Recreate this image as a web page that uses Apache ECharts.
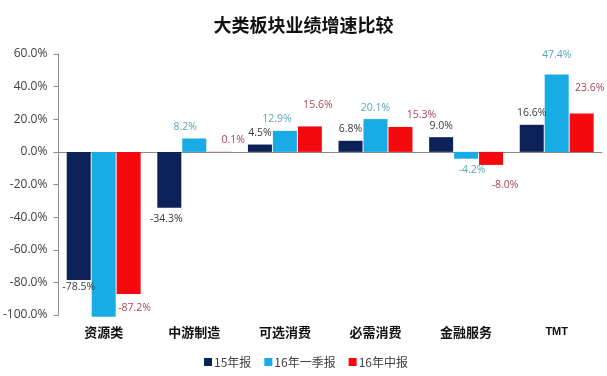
<!DOCTYPE html>
<html>
<head>
<meta charset="utf-8">
<script src="https://cdn.jsdelivr.net/npm/echarts@6/dist/echarts.min.js"></script>
<style>
  html, body { margin: 0; padding: 0; background: #fff; }
  #chart { width: 607px; height: 376px; }
</style>
</head>
<body>
<div id="chart"></div>
<script>
// 大类板块业绩增速比较 (%)
const categories = ['资源类', '中游制造', '可选消费', '必需消费', '金融服务', 'TMT'];
const fy15 = [-78.5, -34.3, 4.5, 6.8, 9.0, 16.6];
const q1_16 = [-101.0, 8.2, 12.9, 20.1, -4.2, 47.4];
const h1_16 = [-87.2, 0.1, 15.6, 15.3, -8.0, 23.6];
const seriesNames = ['15年报', '16年一季报', '16年中报'];
const yTicks = [-100, -80, -60, -40, -20, 0, 20, 40, 60];

// label nudges [dx, dy] — labels were hand-placed in the original
const offsFy15 = [[0, -4], [-3, 0], [0, 0], [0, 0], [0, 0], [0, 0]];
const offsQ1 = [[0, 0], [-9, 0], [-8, 0], [0, 0], [6, 0], [0, -8]];
const offsH1 = [[6, 2], [14, 0], [8, -10], [21, 0], [14, 9], [8, -14]];
const hideLabel = [[], [0], []];

const colors = ['#0c2157', '#18abe5', '#f40a0c'];
const labelColors = ['#3a3a3a', '#5aa6b8', '#ad4656'];

function buildSeries(idx, values, offs) {
  return {
    name: seriesNames[idx],
    type: 'bar',
    xAxisIndex: 0,
    barWidth: 24,
    barGap: '4%',
    clip: false,
    itemStyle: { color: colors[idx] },
    data: values.map((v, i) => ({
      value: v,
      label: {
        show: hideLabel[idx].indexOf(i) < 0,
        position: v >= 0 ? 'top' : 'bottom',
        distance: 6,
        offset: offs[i],
        formatter: p => p.value.toFixed(1) + '%',
        color: labelColors[idx],
        fontSize: 10.5,
        fontFamily: 'Open Sans'
      }
    }))
  };
}

const chart = echarts.init(document.getElementById('chart'));
chart.setOption({
  animation: false,
  title: {
    text: '大类板块业绩增速比较',
    left: 'center',
    top: 11,
    textStyle: { fontSize: 18, fontWeight: 'bold', color: '#111', fontFamily: 'Noto Sans CJK SC' }
  },
  legend: {
    data: seriesNames,
    left: 199,
    top: 351,
    itemWidth: 8,
    itemHeight: 8,
    itemGap: 13,
    icon: 'rect',
    textStyle: { fontSize: 12, color: '#404040', fontFamily: 'Noto Sans CJK SC', padding: [0, 0, 0, -3] }
  },
  grid: { left: 53, right: 5, top: 54, bottom: 61 },
  xAxis: [
    {
      type: 'category',
      data: categories,
      axisLine: { onZero: true, lineStyle: { color: '#8c8c8c' } },
      axisTick: { show: false },
      axisLabel: { show: false }
    },
    {
      type: 'category',
      data: categories,
      position: 'bottom',
      axisLine: { show: false, onZero: false },
      axisTick: { show: false },
      axisLabel: {
        margin: 11,
        fontSize: 13,
        fontWeight: 'bold',
        color: '#111',
        fontFamily: 'Noto Sans CJK SC',
        formatter: v => v === 'TMT' ? '{s|TMT}' : v,
        rich: { s: { fontSize: 11, fontWeight: 'bold', color: '#111', fontFamily: 'Liberation Sans' } }
      }
    }
  ],
  yAxis: {
    type: 'value',
    min: yTicks[0],
    max: yTicks[yTicks.length - 1],
    interval: 20,
    axisLine: { show: true, lineStyle: { color: '#8c8c8c' } },
    axisTick: { show: true, length: 5, lineStyle: { color: '#8c8c8c' } },
    splitLine: { show: false },
    axisLabel: {
      margin: 11,
      fontSize: 12,
      color: '#404040',
      fontFamily: 'Open Sans',
      formatter: v => v.toFixed(1) + '%'
    }
  },
  series: [
    buildSeries(0, fy15, offsFy15),
    buildSeries(1, q1_16, offsQ1),
    buildSeries(2, h1_16, offsH1)
  ]
});
</script>
</body>
</html>
